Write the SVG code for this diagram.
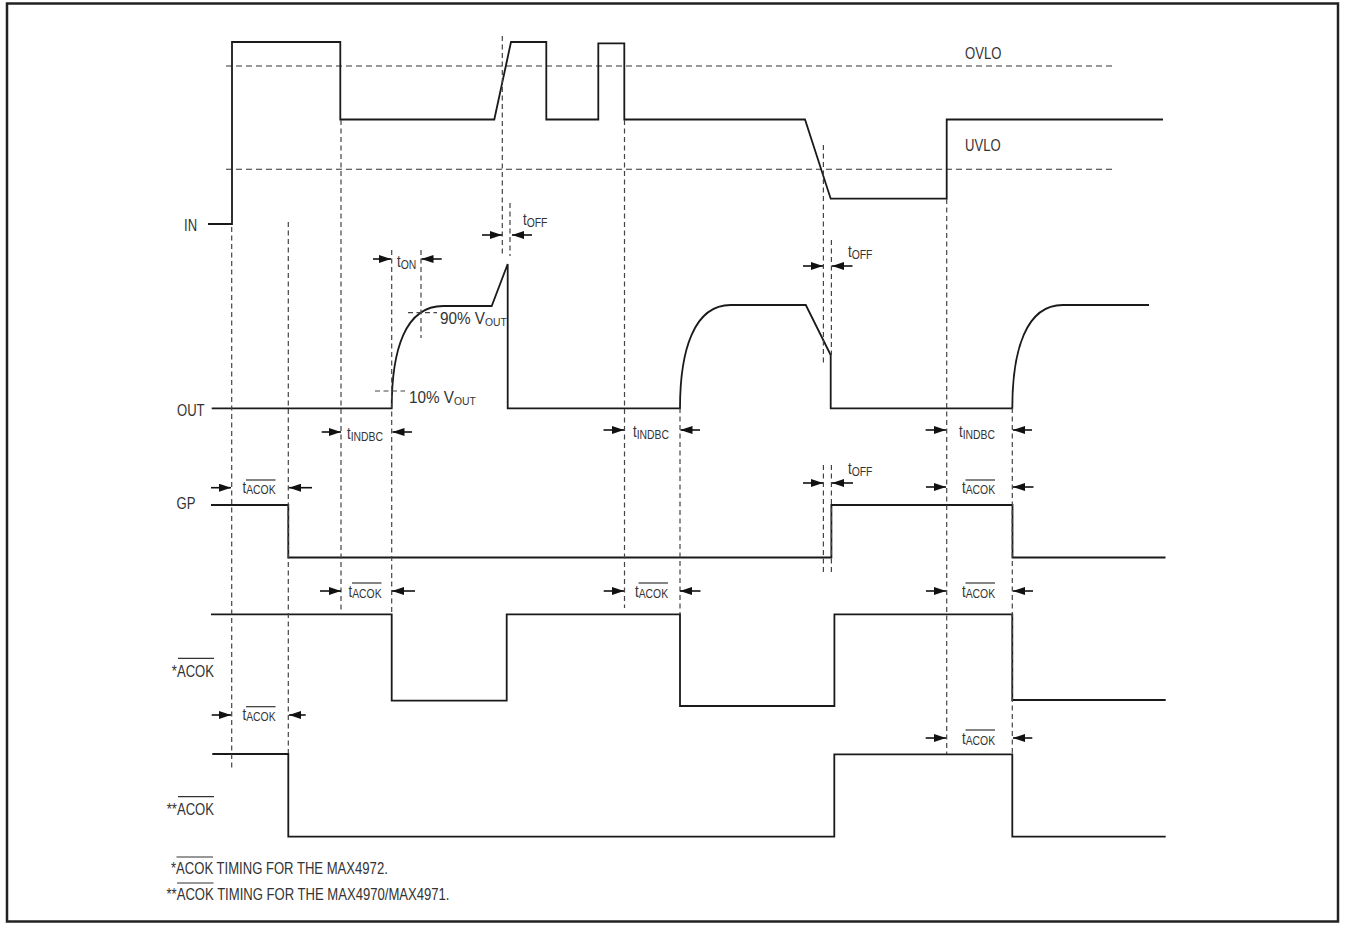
<svg xmlns="http://www.w3.org/2000/svg" width="1345" height="928" viewBox="0 0 1345 928">
<defs>
<style>
.bg{fill:#ffffff}
.frame{fill:none;stroke:#222;stroke-width:2.5}
.tr{fill:none;stroke:#1a1a1a;stroke-width:1.8;stroke-linejoin:miter}
.th{fill:none;stroke:#333;stroke-width:1.1;stroke-dasharray:6,4}
.dv{fill:none;stroke:#444;stroke-width:1.2;stroke-dasharray:5,3.5}
.ar{fill:none;stroke:#111;stroke-width:1.6}
.ov{fill:none;stroke:#333;stroke-width:1.2}
text{font-family:"Liberation Sans",Arial,sans-serif;fill:#333;font-size:17px}
.sb{font-size:13.5px}
.sm{font-size:11.5px}
</style>
<marker id="ah" markerUnits="userSpaceOnUse" markerWidth="12" markerHeight="8" refX="12" refY="4" orient="auto">
<path d="M0,0 L12,4 L0,8 z" fill="#111"/>
</marker>
</defs>
<rect class="bg" x="0" y="0" width="1345" height="928"/>
<rect id="frame" class="frame" x="7" y="3.5" width="1331" height="918"/>

<g id="thresholds">
<line class="th" x1="226" y1="66" x2="1112" y2="66"/>
<line class="th" x1="226" y1="169.3" x2="1112" y2="169.3"/>
<text transform="translate(965,59) scale(0.77,1)">OVLO</text>
<text transform="translate(965,151) scale(0.77,1)">UVLO</text>
</g>

<g id="node-in">
<text transform="translate(184,231) scale(0.77,1)">IN</text>
<path class="tr" d="M208,224 H232 V42 H340.3 V119.5 H494.3 L511,42 H546.3 V119.5 H598.3 V43.3 H624.3 V119.5 H805 L830.7,198.7 H946.7 V119.5 H1163"/>
</g>

<g id="node-out">
<text transform="translate(177,416) scale(0.77,1)">OUT</text>
<path class="tr" d="M211.7,408.3 H391.7 C391.7,350 405,306 443.3,306 H491.7 L507.7,264 V408.3 H680 C680,350 694,305 730.7,305 H805.8 L830.7,355 V408.3 H1012.3 C1012.3,350 1026,305 1062.8,305 H1149"/>
<line class="dv" x1="408" y1="312.7" x2="437" y2="312.7"/>
<line class="dv" x1="375" y1="391" x2="405" y2="391"/>
<text transform="translate(440,324) scale(0.9,1)">90% V<tspan class="sm" dy="2">OUT</tspan></text>
<text transform="translate(409,403) scale(0.9,1)">10% V<tspan class="sm" dy="2">OUT</tspan></text>
</g>

<g id="node-gp">
<text transform="translate(176.5,509) scale(0.77,1)">GP</text>
<path class="tr" d="M211,505 H288.3 V557.5 H831.4 V505 H1012.5 V557.5 H1165.5"/>
</g>

<g id="node-acok1">
<text text-anchor="end" transform="translate(214,676.7) scale(0.77,1)">*ACOK</text>
<line class="ov" x1="178" y1="658.3" x2="214" y2="658.3"/>
<path class="tr" d="M211,614.3 H391.7 V700.7 H506.7 V614.3 H680 V706 H834.4 V614.3 H1012.3 V700 H1165.7"/>
</g>

<g id="node-acok2">
<text text-anchor="end" transform="translate(214,815) scale(0.77,1)">**ACOK</text>
<line class="ov" x1="178" y1="796.7" x2="214" y2="796.7"/>
<path class="tr" d="M212.3,754 H288.3 V836.7 H834.3 V754.3 H1012.3 V836.7 H1165.7"/>
</g>

<g id="connectors">
<line class="dv" x1="231.7" y1="227" x2="231.7" y2="769"/>
<line class="dv" x1="288.3" y1="222" x2="288.3" y2="753"/>
<line class="dv" x1="341" y1="120" x2="341" y2="610"/>
<line class="dv" x1="391.7" y1="250" x2="391.7" y2="614"/>
<line class="dv" x1="421" y1="250" x2="421" y2="338"/>
<line class="dv" x1="502.3" y1="36" x2="502.3" y2="256"/>
<line class="dv" x1="510" y1="203" x2="510" y2="256"/>
<line class="dv" x1="624.5" y1="120" x2="624.5" y2="608"/>
<line class="dv" x1="680" y1="408" x2="680" y2="614"/>
<line class="dv" x1="823.4" y1="145" x2="823.4" y2="363"/>
<line class="dv" x1="831.4" y1="240" x2="831.4" y2="355"/>
<line class="dv" x1="823.4" y1="465" x2="823.4" y2="574"/>
<line class="dv" x1="831.4" y1="465" x2="831.4" y2="574"/>
<line class="dv" x1="946.7" y1="199" x2="946.7" y2="754"/>
<line class="dv" x1="1012.3" y1="408" x2="1012.3" y2="754"/>

<g id="arrows">
<line class="ar" x1="482" y1="235" x2="502" y2="235" marker-end="url(#ah)"/>
<line class="ar" x1="532" y1="235" x2="512" y2="235" marker-end="url(#ah)"/>
<line class="ar" x1="373" y1="259" x2="391" y2="259" marker-end="url(#ah)"/>
<line class="ar" x1="441.7" y1="259" x2="421.5" y2="259" marker-end="url(#ah)"/>
<line class="ar" x1="321.7" y1="432" x2="341" y2="432" marker-end="url(#ah)"/>
<line class="ar" x1="412" y1="432" x2="392.5" y2="432" marker-end="url(#ah)"/>
<line class="ar" x1="603.5" y1="430" x2="624" y2="430" marker-end="url(#ah)"/>
<line class="ar" x1="700" y1="430" x2="680.5" y2="430" marker-end="url(#ah)"/>
<line class="ar" x1="925.6" y1="430" x2="946" y2="430" marker-end="url(#ah)"/>
<line class="ar" x1="1032" y1="430" x2="1013" y2="430" marker-end="url(#ah)"/>
<line class="ar" x1="803" y1="266" x2="823" y2="266" marker-end="url(#ah)"/>
<line class="ar" x1="852.5" y1="266" x2="832" y2="266" marker-end="url(#ah)"/>
<line class="ar" x1="803" y1="483" x2="823" y2="483" marker-end="url(#ah)"/>
<line class="ar" x1="853" y1="483" x2="832" y2="483" marker-end="url(#ah)"/>
<line class="ar" x1="211" y1="487.7" x2="231" y2="487.7" marker-end="url(#ah)"/>
<line class="ar" x1="312" y1="487.7" x2="289" y2="487.7" marker-end="url(#ah)"/>
<line class="ar" x1="926" y1="487" x2="946" y2="487" marker-end="url(#ah)"/>
<line class="ar" x1="1033.5" y1="487" x2="1013" y2="487" marker-end="url(#ah)"/>
<line class="ar" x1="320" y1="591" x2="341" y2="591" marker-end="url(#ah)"/>
<line class="ar" x1="415" y1="591" x2="392" y2="591" marker-end="url(#ah)"/>
<line class="ar" x1="603.7" y1="591" x2="624" y2="591" marker-end="url(#ah)"/>
<line class="ar" x1="700.5" y1="591" x2="680" y2="591" marker-end="url(#ah)"/>
<line class="ar" x1="926" y1="591" x2="946" y2="591" marker-end="url(#ah)"/>
<line class="ar" x1="1033" y1="591" x2="1013" y2="591" marker-end="url(#ah)"/>
<line class="ar" x1="211.7" y1="715" x2="231" y2="715" marker-end="url(#ah)"/>
<line class="ar" x1="305.7" y1="715" x2="289" y2="715" marker-end="url(#ah)"/>
<line class="ar" x1="925.7" y1="738" x2="946" y2="738" marker-end="url(#ah)"/>
<line class="ar" x1="1032.3" y1="738" x2="1013" y2="738" marker-end="url(#ah)"/>
</g>
</g>

<g id="timing-labels">
<text transform="translate(523,225) scale(0.77,1)">t<tspan class="sb" dy="1.5">OFF</tspan></text>
<text transform="translate(397,267) scale(0.77,1)">t<tspan class="sb" dy="1.5">ON</tspan></text>
<text transform="translate(347,439) scale(0.77,1)">t<tspan class="sb" dy="1.5">INDBC</tspan></text>
<text transform="translate(633,437) scale(0.77,1)">t<tspan class="sb" dy="1.5">INDBC</tspan></text>
<text transform="translate(959,437) scale(0.77,1)">t<tspan class="sb" dy="1.5">INDBC</tspan></text>
<text transform="translate(848,257) scale(0.77,1)">t<tspan class="sb" dy="1.5">OFF</tspan></text>
<text transform="translate(848,474) scale(0.77,1)">t<tspan class="sb" dy="1.5">OFF</tspan></text>

<text transform="translate(242.5,493) scale(0.77,1)">t<tspan class="sb" dy="1">ACOK</tspan></text>
<line class="ov" x1="246" y1="480" x2="275.5" y2="480"/>
<text transform="translate(962,493) scale(0.77,1)">t<tspan class="sb" dy="1">ACOK</tspan></text>
<line class="ov" x1="965.5" y1="480" x2="995" y2="480"/>
<text transform="translate(348.5,597) scale(0.77,1)">t<tspan class="sb" dy="1">ACOK</tspan></text>
<line class="ov" x1="352" y1="583" x2="381.5" y2="583"/>
<text transform="translate(635,597) scale(0.77,1)">t<tspan class="sb" dy="1">ACOK</tspan></text>
<line class="ov" x1="638.5" y1="583" x2="668" y2="583"/>
<text transform="translate(962,597) scale(0.77,1)">t<tspan class="sb" dy="1">ACOK</tspan></text>
<line class="ov" x1="965.5" y1="583" x2="995" y2="583"/>
<text transform="translate(242.5,720) scale(0.77,1)">t<tspan class="sb" dy="1">ACOK</tspan></text>
<line class="ov" x1="246" y1="706.7" x2="275.5" y2="706.7"/>
<text transform="translate(962,744) scale(0.77,1)">t<tspan class="sb" dy="1">ACOK</tspan></text>
<line class="ov" x1="965.5" y1="730" x2="995" y2="730"/>
</g>

<g id="footnotes">
<text transform="translate(171,874) scale(0.77,1)">*ACOK TIMING FOR THE MAX4972.</text>
<line class="ov" x1="176.5" y1="857" x2="213" y2="857"/>
<text transform="translate(166.5,900) scale(0.77,1)">**ACOK TIMING FOR THE MAX4970/MAX4971.</text>
<line class="ov" x1="177" y1="883" x2="213.5" y2="883"/>
</g>
</svg>
